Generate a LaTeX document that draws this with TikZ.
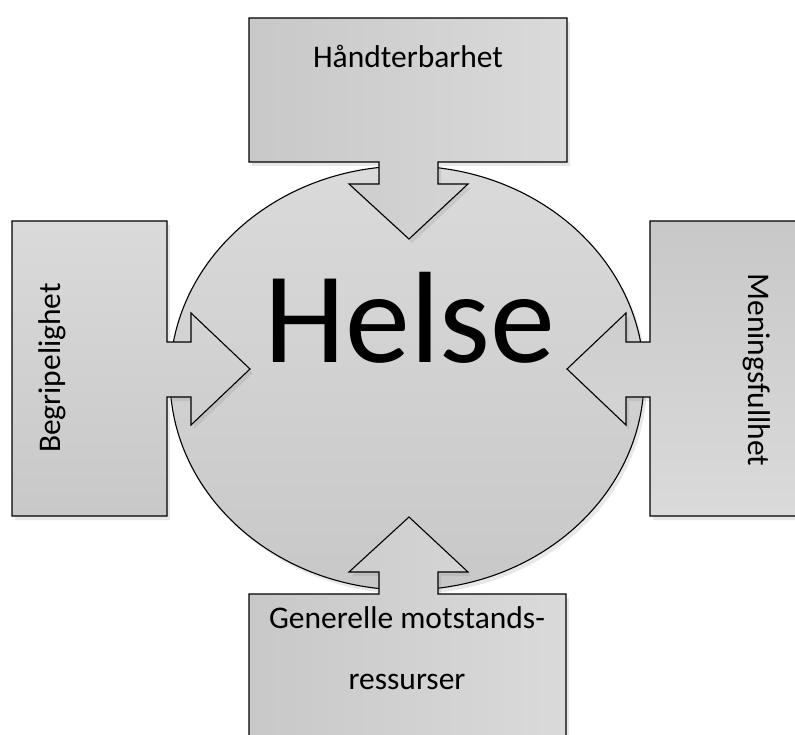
\documentclass[tikz,border=0pt]{standalone}
\usepackage{fontspec}
\setmainfont{Carlito}
\usepackage{tikz}
\usetikzlibrary{calc,shadows}
\definecolor{shadedark}{HTML}{C8C8C8}
\definecolor{shadelight}{HTML}{DADADA}
\tikzset{
  part/.style={draw=black, line width=1.1pt, line join=miter,
    drop shadow={opacity=0.18, shadow xshift=3pt, shadow yshift=-4pt}},
  label/.style={font=\fontsize{31.5}{61}\selectfont, inner sep=0pt, align=center}
}

\begin{document}
\begin{tikzpicture}[x=1pt, y=-1pt]
			\useasboundingbox (0,0) rectangle (795,735);
			% the circle
			\coordinate (M) at (407,378);
			\draw[part, top color=shadelight, bottom color=shadedark] (M) ellipse [x radius=237, y radius=212];
			% top box
			\draw[part, left color=shadedark, right color=shadelight]
				(249,18) -- (567,18) -- (567,162) -- (438,162) -- (438,184) -- (468,184)
				-- (409,239) -- (349,184) -- (379,184) -- (379,162) -- (249,162) -- cycle;
			% left box
			\draw[part, bottom color=shadedark, top color=shadelight]
				(12,221) -- (167,221) -- (167,342) -- (191,342) -- (191,313) -- (250,369)
				-- (191,425) -- (191,397) -- (167,397) -- (167,516) -- (12,516) -- cycle;
			% right box
			\draw[part, top color=shadedark, bottom color=shadelight]
				(800,221) -- (650,221) -- (650,342) -- (626,342) -- (626,313) -- (567,369)
				-- (626,425) -- (626,397) -- (650,397) -- (650,516) -- (800,516);
			% bottom box
			\draw[part, left color=shadedark, right color=shadelight]
				(249,745) -- (249,594) -- (379,594) -- (379,572) -- (349,572) -- (409,517)
				-- (468,572) -- (438,572) -- (438,594) -- (566,594) -- (566,745);
			\node[anchor=base, font=\fontsize{130}{130}\selectfont, inner sep=0pt] (helse) at (410,362) {Helse};
			\node[label, anchor=base] (handt) at (408,68) {Håndterbarhet};
			\node[label, rotate=90] (begr) at (52,368) {Begripelighet};
			\node[label, rotate=-90] (mening) at (757,370) {Meningsfullhet};
			\node[label, anchor=base] (gen) at (407,689) {Generelle motstands-\\ressurser};
		\end{tikzpicture}
\end{document}
